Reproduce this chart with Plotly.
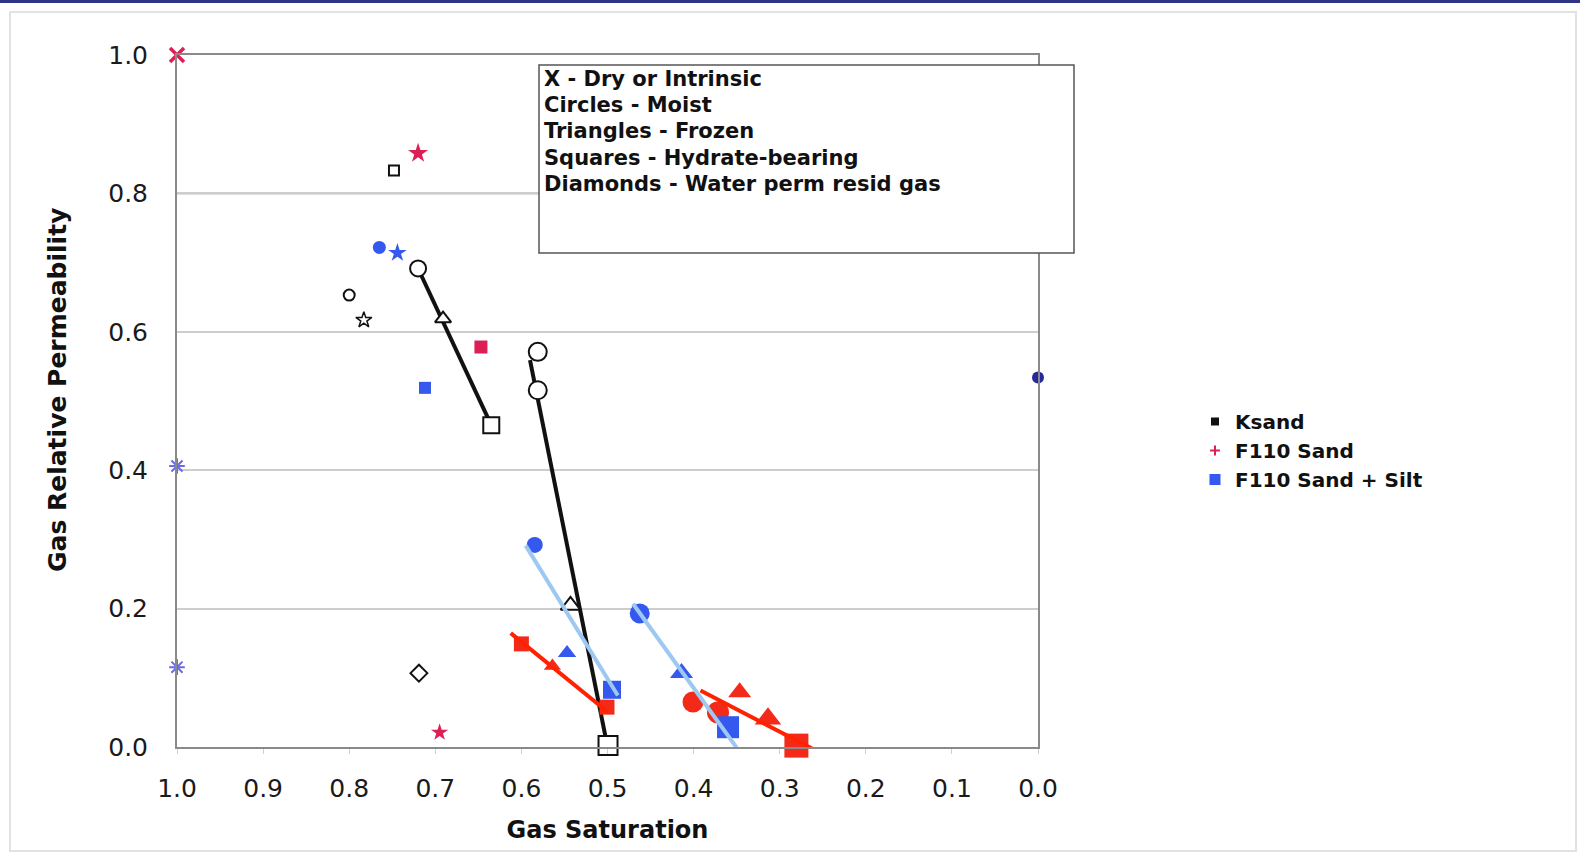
import plotly.graph_objects as go

# ---------------- data ----------------
# Ksand (black, open markers)
ksand_moist_x = [0.800, 0.720, 0.581, 0.581]
ksand_moist_y = [0.653, 0.6915, 0.571, 0.5155]
ksand_frozen_x = [0.691, 0.543]
ksand_frozen_y = [0.619, 0.2046]
ksand_hydrate_x = [0.748, 0.635, 0.4994]
ksand_hydrate_y = [0.833, 0.465, 0.002]
ksand_diamond_x = [0.719]
ksand_diamond_y = [0.1067]
ksand_star_x = [0.783]
ksand_star_y = [0.617]
ksand_line1_x = [0.720, 0.635]
ksand_line1_y = [0.6915, 0.465]
ksand_line2_x = [0.590, 0.4975]
ksand_line2_y = [0.559, -0.015]

# F110 Sand (red)
f110_dry_x = [1.0]
f110_dry_y = [1.0]
f110_early_star_x = [0.720, 0.695]
f110_early_star_y = [0.858, 0.021]
f110_early_square_x = [0.647]
f110_early_square_y = [0.578]
f110_square_x = [0.600, 0.5006, 0.2806]
f110_square_y = [0.149, 0.0576, 0.002]
f110_triangle_x = [0.564, 0.3465, 0.3136]
f110_triangle_y = [0.117, 0.079, 0.0408]
f110_circle_x = [0.4007, 0.3717]
f110_circle_y = [0.065, 0.050]
f110_line1_x = [0.6124, 0.4994]
f110_line1_y = [0.1646, 0.0503]
f110_line2_x = [0.392, 0.2613]
f110_line2_y = [0.0817, -0.003]

# F110 Sand + Silt (blue)
silt_dry_x = [1.0, 1.0]
silt_dry_y = [0.406, 0.1154]
silt_early_circle_x = [0.765]
silt_early_circle_y = [0.722]
silt_early_star_x = [0.744]
silt_early_star_y = [0.714]
silt_early_square_x = [0.712]
silt_early_square_y = [0.519]
silt_circle_x = [0.5845, 0.4626]
silt_circle_y = [0.292, 0.193]
silt_triangle_x = [0.547, 0.414]
silt_triangle_y = [0.1357, 0.107]
silt_square_x = [0.4948, 0.360]
silt_square_y = [0.0827, 0.0286]
silt_line1_x = [0.595, 0.488]
silt_line1_y = [0.291, 0.0745]
silt_line2_x = [0.4704, 0.350]
silt_line2_y = [0.207, -0.001]
silt_zero_x = [0.0]
silt_zero_y = [0.534]

x_ticks = [1.0, 0.9, 0.8, 0.7, 0.6, 0.5, 0.4, 0.3, 0.2, 0.1, 0.0]
y_ticks = [0.0, 0.2, 0.4, 0.6, 0.8, 1.0]
legend_names = ["Ksand", "F110 Sand", "F110 Sand + Silt"]
note_lines = ["X - Dry or Intrinsic", "Circles - Moist", "Triangles - Frozen",
              "Squares - Hydrate-bearing", "Diamonds - Water perm resid gas"]
x_title = "Gas Saturation"
y_title = "Gas Relative Permeability"

# ---------------- styles ----------------
BLACK = "#111111"
RED = "#f32a1a"
REDLINE = "#ff2200"
CRIMSON = "#dc1f55"
BLUE = "#3558ee"
LIGHTBLUE = "#9cc8f2"
PURPLE = "#6a6ae6"
NAVY = "#28289a"

fig = go.Figure()


def lines(x, y, color, width):
    fig.add_trace(go.Scatter(x=x, y=y, mode="lines", showlegend=False,
                             line=dict(color=color, width=width), hoverinfo="skip"))


def pts(x, y, symbol, color, size, open_=False, lw=2):
    if symbol.endswith("-open"):
        marker = dict(symbol=symbol, size=size, color=color, opacity=1,
                      line=dict(color=color, width=lw))
    elif open_:
        marker = dict(symbol=symbol, size=size, color="white", opacity=1,
                      line=dict(color=color, width=lw))
    else:
        marker = dict(symbol=symbol, size=size, color=color, opacity=1,
                      line=dict(color=color, width=0))
    fig.add_trace(go.Scatter(x=x, y=y, mode="markers", showlegend=False,
                             cliponaxis=False, marker=marker))


# lines
lines(ksand_line1_x, ksand_line1_y, BLACK, 4)
lines(ksand_line2_x, ksand_line2_y, BLACK, 4)

# Ksand markers
pts(ksand_moist_x, ksand_moist_y, "circle", BLACK, [11, 16, 18, 18], True)
pts(ksand_frozen_x, ksand_frozen_y, "triangle-up", BLACK, [14, 17], True)
pts(ksand_hydrate_x, ksand_hydrate_y, "square", BLACK, [10, 16, 19], True)
pts(ksand_diamond_x, ksand_diamond_y, "diamond", BLACK, [13], True)
pts(ksand_star_x, ksand_star_y, "star", BLACK, [12], True, 1.5)

# F110 markers
pts(f110_early_star_x, f110_early_star_y, "star", CRIMSON, [15, 13])
pts(f110_early_square_x, f110_early_square_y, "square", CRIMSON, [13])
pts(f110_circle_x, f110_circle_y, "circle", RED, [21, 22])
pts(f110_triangle_x, f110_triangle_y, "triangle-up", RED, [15, 20, 23])
pts(f110_square_x, f110_square_y, "square", RED, [15, 15, 24])

# Silt markers
pts(silt_early_circle_x, silt_early_circle_y, "circle", BLUE, [13])
pts(silt_early_star_x, silt_early_star_y, "star", BLUE, [14])
pts(silt_early_square_x, silt_early_square_y, "square", BLUE, [12])
pts(silt_circle_x, silt_circle_y, "circle", BLUE, [16, 20])
pts(silt_triangle_x, silt_triangle_y, "triangle-up", BLUE, [16, 20])
pts(silt_square_x, silt_square_y, "square", BLUE, [18, 22])
pts(silt_zero_x, silt_zero_y, "circle", NAVY, [12])

# trend lines on top
lines(f110_line1_x, f110_line1_y, REDLINE, 4)
lines(f110_line2_x, f110_line2_y, REDLINE, 4)
lines(silt_line1_x, silt_line1_y, LIGHTBLUE, 4)
lines(silt_line2_x, silt_line2_y, LIGHTBLUE, 4)

# dry markers
pts(silt_dry_x, silt_dry_y, "asterisk-open", PURPLE, [13, 13], True, 2)
pts(f110_dry_x, f110_dry_y, "x-thin-open", CRIMSON, [14], True, 3.5)

# legend entries
for name, sym, col, sz in zip(legend_names, ["square", "cross-thin-open", "square"],
                              [BLACK, CRIMSON, BLUE], [6, 7, 9]):
    fig.add_trace(go.Scatter(x=[None], y=[None], mode="markers", name=name,
                             marker=dict(symbol=sym, size=sz, color=col, opacity=1,
                                         line=dict(color=col, width=2))))

# ---------------- layout ----------------
L, R, T, B = 177, 1038, 55, 747
W, H = 1580, 856


def px(xp):
    return (xp - L) / (R - L)


def py(yp):
    return (B - yp) / (B - T)


fig.update_layout(
    width=W, height=H,
    margin=dict(l=L, r=W - R, t=T, b=H - B),
    paper_bgcolor="white", plot_bgcolor="white",
    font=dict(family="DejaVu Sans", color="#1a1a1a"),
    xaxis=dict(range=[1.0, 0.0], tickvals=x_ticks, tickformat=".1f",
               showgrid=False, zeroline=False,
               showline=True, linecolor="#8a8a8a", linewidth=2, mirror=True,
               ticks="outside", ticklen=5, tickcolor="#cfcfcf", tickwidth=1,
               ticklabelstandoff=13,
               tickfont=dict(size=25, family="DejaVu Sans", color="#1a1a1a"),
               title=dict(text="<b>" + x_title + "</b>", standoff=19,
                          font=dict(size=24, family="DejaVu Sans", color="#111"))),
    yaxis=dict(range=[0.0, 1.0], tickvals=y_ticks, tickformat=".1f",
               showgrid=True, gridcolor="#cdcdcd", gridwidth=1.5, zeroline=False,
               showline=True, linecolor="#8a8a8a", linewidth=2, mirror=True,
               ticks="", ticklabelstandoff=22,
               tickfont=dict(size=25, family="DejaVu Sans", color="#1a1a1a")),
    legend=dict(x=px(1195), y=py(402), xanchor="left", yanchor="top",
                bgcolor="rgba(0,0,0,0)", borderwidth=0,
                font=dict(size=20, family="DejaVu Sans", color="#111", weight="bold"),
                tracegroupgap=0),
    showlegend=True,
)

shapes = [
    # page frame
    dict(type="line", xref="paper", yref="paper", x0=px(0), x1=px(W), y0=py(1.5), y1=py(1.5),
         line=dict(color="#2f3486", width=3)),
    dict(type="rect", xref="paper", yref="paper", x0=px(10), x1=px(1576), y0=py(851), y1=py(12),
         line=dict(color="#e2e2e2", width=2), layer="below"),
    # thicker light band on 0.8 grid line
    dict(type="line", xref="paper", yref="y", x0=0, x1=1, y0=0.8, y1=0.8,
         line=dict(color="#dedede", width=3), layer="below"),
    # note box
    dict(type="rect", xref="paper", yref="paper", x0=px(539), x1=px(1074), y0=py(253), y1=py(65),
         fillcolor="white", line=dict(color="#555555", width=1.5), layer="above"),
]
fig.update_layout(shapes=shapes)

# y-axis title
fig.add_annotation(xref="paper", yref="paper", x=px(57), y=py(390),
                   xanchor="center", yanchor="middle", textangle=-90, showarrow=False,
                   text="<b>" + y_title + "</b>",
                   font=dict(size=25, family="DejaVu Sans", color="#111"))

# note box lines
for i, s in enumerate(note_lines):
    fig.add_annotation(xref="paper", yref="paper", x=px(542), y=py(79 + 26.2 * i),
                       xanchor="left", yanchor="middle", align="left", showarrow=False,
                       text="<b>" + s + "</b>",
                       font=dict(size=21, family="DejaVu Sans", color="#111"))

fig.write_html("out.html")
